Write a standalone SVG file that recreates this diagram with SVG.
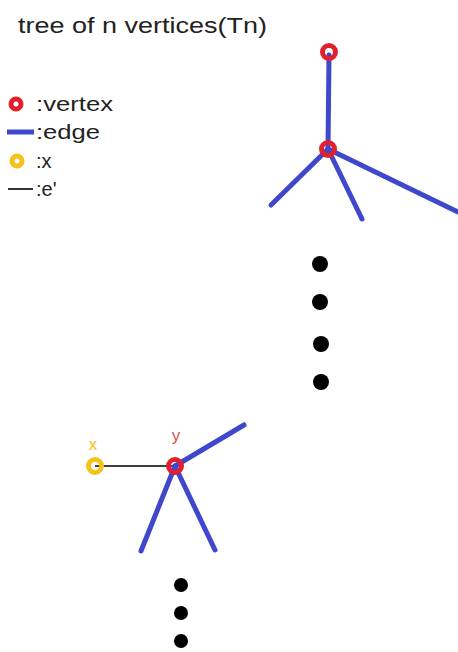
<svg xmlns="http://www.w3.org/2000/svg" width="458" height="652" viewBox="0 0 458 652">
<style>
text{font-family:"Liberation Sans","DejaVu Sans",sans-serif;}
.t{font-size:20px;fill:#222;}
.edge{stroke:#3f48cc;stroke-width:5;stroke-linecap:round;fill:none;}
.vtx{fill:none;stroke:#e0202e;stroke-width:5;}
.xv{fill:none;stroke:#f5c21a;stroke-width:5;}
.ep{stroke:#000;stroke-width:1.6;}
.dot{fill:#000;}
</style>
<rect width="458" height="652" fill="#fff"/>
<text class="t" x="18" y="33" font-size="22" style="font-size:22px" textLength="249" lengthAdjust="spacingAndGlyphs">tree of n vertices(Tn)</text>
<g id="legend">
<circle class="vtx" cx="16" cy="104" r="5"/>
<text class="t" x="36" y="111" textLength="77" lengthAdjust="spacingAndGlyphs">:vertex</text>
<line class="edge" x1="7" y1="132" x2="34" y2="132" style="stroke-linecap:butt"/>
<text class="t" x="36" y="139" textLength="64" lengthAdjust="spacingAndGlyphs">:edge</text>
<circle class="xv" cx="17" cy="161" r="5"/>
<text class="t" x="36" y="168">:x</text>
<line class="ep" x1="8" y1="189" x2="33" y2="189"/>
<text class="t" x="36" y="196">:e'</text>
</g>
<g id="connectors">
<line class="edge" x1="329" y1="55" x2="328" y2="149"/>
<line class="edge" x1="328" y1="149" x2="271" y2="205"/>
<line class="edge" x1="328" y1="149" x2="362" y2="219"/>
<line class="edge" x1="328" y1="149" x2="458" y2="212"/>
<line class="ep" x1="95" y1="466" x2="175" y2="466"/>
<line class="edge" x1="175" y1="466" x2="244" y2="425"/>
<line class="edge" x1="175" y1="466" x2="141" y2="551"/>
<line class="edge" x1="175" y1="466" x2="215" y2="550"/>
</g>
<g id="v1"><circle class="vtx" cx="329" cy="52" r="6.5"/></g>
<g id="v2"><circle class="vtx" cx="328" cy="149" r="6.5"/></g>
<g id="dots1">
<circle class="dot" cx="320" cy="264" r="8"/>
<circle class="dot" cx="320" cy="302" r="8"/>
<circle class="dot" cx="321" cy="344" r="8"/>
<circle class="dot" cx="321" cy="382" r="8"/>
</g>
<g id="x">
<circle class="xv" cx="95" cy="466" r="6.5"/>
<text x="93" y="450" font-size="17" fill="#f5c21a" text-anchor="middle">x</text>
</g>
<g id="y">
<circle class="vtx" cx="175" cy="466" r="6.5"/>
<text x="176" y="441" font-size="17" fill="#e05050" text-anchor="middle">y</text>
</g>
<g id="dots2">
<circle class="dot" cx="181" cy="585" r="7"/>
<circle class="dot" cx="181" cy="613" r="7"/>
<circle class="dot" cx="181" cy="641" r="7"/>
</g>
</svg>
